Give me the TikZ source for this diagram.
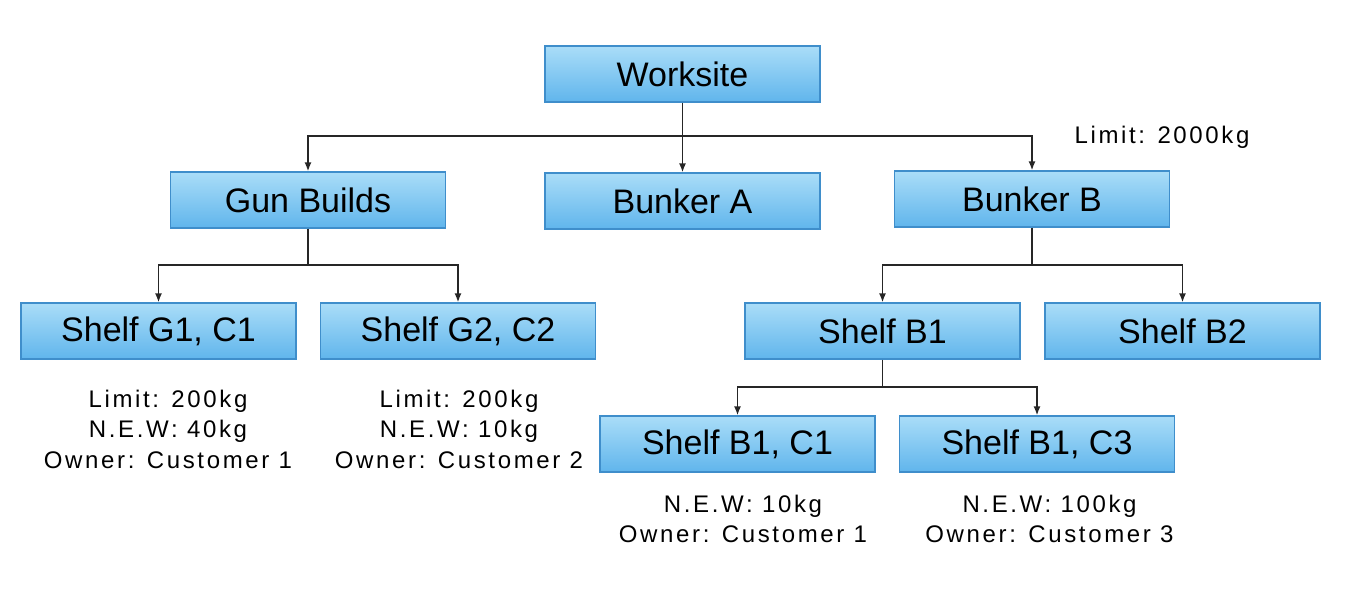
\documentclass[tikz,border=0pt]{standalone}
\usepackage{fontspec}
\setmainfont{Liberation Sans}
\usetikzlibrary{arrows.meta}
\definecolor{boxtop}{HTML}{AADDF8}
\definecolor{boxbot}{HTML}{60B5EC}
\definecolor{boxline}{HTML}{3F8ECB}
\tikzset{
  box/.style={draw=boxline, line width=1.2pt, top color=boxtop, bottom color=boxbot,
    minimum width=275pt, minimum height=56pt, inner sep=0pt,
    font=\fontsize{34}{40}\selectfont},
  conn/.style={draw=black!85, line width=1.6pt},
  arr/.style={conn, -{Latex[length=9pt,width=7pt]}},
  info/.style={align=center, inner sep=0pt,
    font=\fontsize{24}{30.5}\selectfont\addfontfeature{LetterSpace=11}}
}
\begin{document}
\begin{tikzpicture}[x=1pt, y=-1pt]
        % Page frame
        \useasboundingbox (0,0) rectangle (1349,610);
        % Boxes
        \node[box] (ws) at (682.5,74) {Worksite};
        \node[box] (gb) at (308,200) {Gun Builds};
        \node[box] (ba) at (682.5,201) {Bunker A};
        \node[box] (bb) at (1032,199) {Bunker B};
        \node[box] (g1) at (158.5,331) {Shelf G1, C1};
        \node[box] (g2) at (458,331) {Shelf G2, C2};
        \node[box] (b1) at (882.5,331) {Shelf B1};
        \node[box] (b2) at (1182.5,331) {Shelf B2};
        \node[box] (b1c1) at (737.5,444) {Shelf B1, C1};
        \node[box] (b1c3) at (1037,444) {Shelf B1, C3};
        % Junctions
        \coordinate (wsj) at (682.5,136);
        \coordinate (gbj) at (308,265);
        \coordinate (bbj) at (1032,265);
        \coordinate (b1j) at (882.5,387);
        % Connectors
        \draw[conn] (ws.south) -- (wsj);
        \foreach \t in {gb,ba,bb} {
          \draw[arr] (wsj) -| (\t.north);
        }
        \draw[conn] (gb.south) -- (gbj);
        \foreach \t in {g1,g2} {
          \draw[arr] (gbj) -| (\t.north);
        }
        \draw[conn] (bb.south) -- (bbj);
        \foreach \t in {b1,b2} {
          \draw[arr] (bbj) -| (\t.north);
        }
        \draw[conn] (b1.south) -- (b1j);
        \foreach \t in {b1c1,b1c3} {
          \draw[arr] (b1j) -| (\t.north);
        }
        % Notes
        \node[info] (bbn) at (1162,137) {Limit: 2000kg};
        \node[info] (g1n) at (168,429) {Limit: 200kg\\N.E.W: 40kg\\Owner: Customer 1};
        \node[info] (g2n) at (459,429) {Limit: 200kg\\N.E.W: 10kg\\Owner: Customer 2};
        \node[info] (b1c1n) at (743,519) {N.E.W: 10kg\\Owner: Customer 1};
        \node[info] (b1c3n) at (1049.5,519) {N.E.W: 100kg\\Owner: Customer 3};
      \end{tikzpicture}
\end{document}
